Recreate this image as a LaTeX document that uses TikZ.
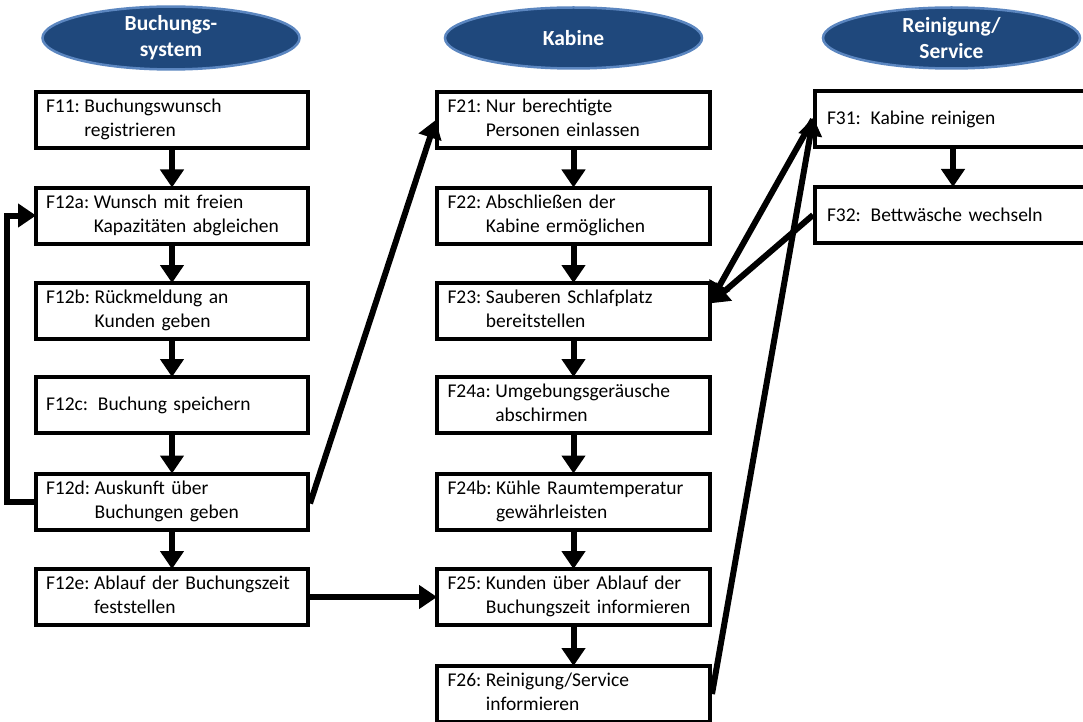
\documentclass[tikz,border=0pt]{standalone}
\usepackage{fontspec}
\setmainfont{Carlito}
\usetikzlibrary{shapes.geometric,arrows.meta,calc}
\definecolor{headfill}{HTML}{1F487C}
\definecolor{headrim}{HTML}{5B86C0}
\tikzset{
  head/.style={ellipse, fill=headfill, draw=headrim, line width=2.5pt,
    minimum width=257pt, minimum height=61pt, inner sep=0pt,
    text=white, font=\bfseries\fontsize{21.5}{26}\selectfont, align=center},
  box/.style={draw, line width=4pt, minimum height=56pt, inner sep=0pt,
    text width=252pt, align=left, font=\fontsize{19.5}{24}\selectfont},
  arr/.style={line width=6pt, -{Triangle[length=18pt,width=23pt]}, shorten >=-2pt}
}
% label, first line, second line aligned under the first line's text
\newcommand{\ftxt}[3]{\begin{tabular}{@{}l@{\hspace{4.5pt}}l@{}}#1 & #2\\ & #3\end{tabular}}
\begin{document}
\begin{tikzpicture}[x=1pt,y=-1pt]
\clip (0,0) rectangle (1083,722);
\fill[white] (0,0) rectangle (1083,722);

% column headers
\node[head] (h1) at (171,38) {Buchungs-\\system};
\node[head] (h2) at (573.5,38) {Kabine};
\node[head] (h3) at (951.5,38) {Reinigung/\\Service};

% booking system
\node[box, minimum width=272pt] (F11)  at (172,120)   {\ftxt{F11:}{Buchungswunsch}{registrieren}};
\node[box, minimum width=272pt] (F12a) at (172,215.5) {\ftxt{F12a:}{Wunsch mit freien}{Kapazitäten abgleichen}};
\node[box, minimum width=272pt] (F12b) at (172,311)   {\ftxt{F12b:}{Rückmeldung an}{Kunden geben}};
\node[box, minimum width=272pt] (F12c) at (172,405)   {F12c: Buchung speichern};
\node[box, minimum width=272pt] (F12d) at (172,501.5) {\ftxt{F12d:}{Auskunft über}{Buchungen geben}};
\node[box, minimum width=272pt] (F12e) at (172,597)   {\ftxt{F12e:}{Ablauf der Buchungszeit}{feststellen}};

% cabin
\node[box, minimum width=273pt] (F21)  at (573.5,120)   {\ftxt{F21:}{Nur berechtigte}{Personen einlassen}};
\node[box, minimum width=273pt] (F22)  at (573.5,215.5) {\ftxt{F22:}{Abschließen der}{Kabine ermöglichen}};
\node[box, minimum width=273pt] (F23)  at (573.5,311)   {\ftxt{F23:}{Sauberen Schlafplatz}{bereitstellen}};
\node[box, minimum width=273pt] (F24a) at (573.5,405)   {\ftxt{F24a:}{Umgebungsgeräusche}{abschirmen}};
\node[box, minimum width=273pt] (F24b) at (573.5,501.5) {\ftxt{F24b:}{Kühle Raumtemperatur}{gewährleisten}};
\node[box, minimum width=273pt] (F25)  at (573.5,597)   {\ftxt{F25:}{Kunden über Ablauf der}{Buchungszeit informieren}};
\node[box, minimum width=273pt] (F26)  at (573.5,694)   {\ftxt{F26:}{Reinigung/Service}{informieren}};

% cleaning / service
\node[box, minimum width=276pt] (F31) at (953,119.5) {F31: Kabine reinigen};
\node[box, minimum width=276pt] (F32) at (953,215)   {F32: Bettwäsche wechseln};

% flow inside the columns
\foreach \a/\b in {F11/F12a, F12a/F12b, F12b/F12c, F12c/F12d, F12d/F12e,
                   F21/F22, F22/F23, F23/F24a, F24a/F24b, F24b/F25, F25/F26,
                   F31/F32}
  \draw[arr] (\a.south) -- (\b.north);

% links between the columns
\draw[arr] (F12d.west) -- ++(-27,0) |- (F12a.west);
\draw[arr] ([yshift=-2pt]F12d.east) -- ([yshift=-2pt]F21.west);
\draw[arr] (F12e.east) -- (F25.west);
\draw[arr] (F31.west) -- ([yshift=12pt]F23.east);
\draw[arr] (F32.west) -- ([yshift=9pt]F23.east);
\draw[arr] (F26.east) -- (F31.west);
\end{tikzpicture}
\end{document}
